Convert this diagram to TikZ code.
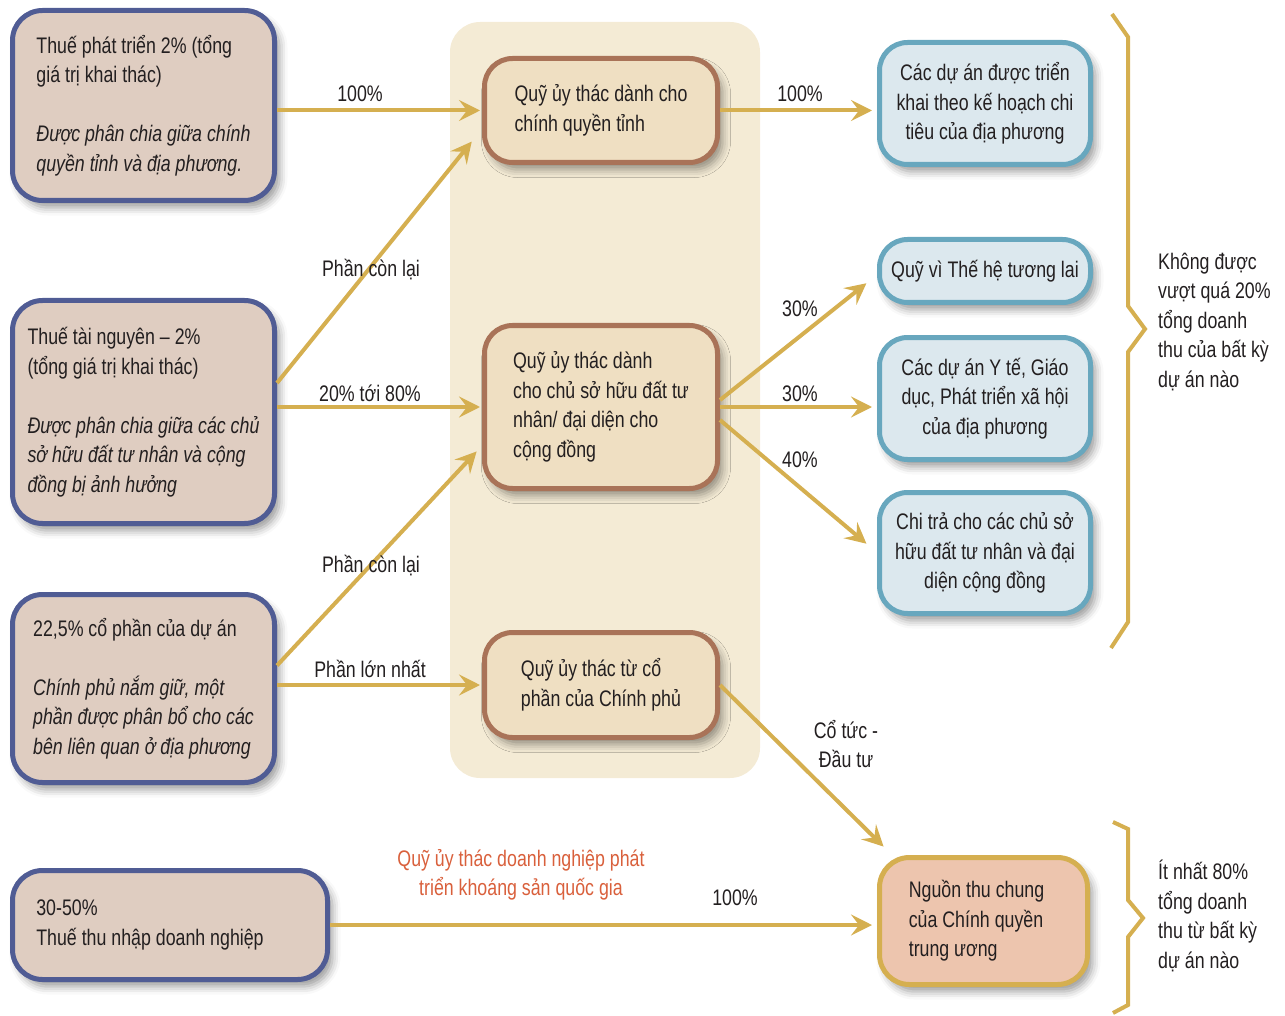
\documentclass[tikz,border=0pt]{standalone}
\usepackage{fontspec}
\setmainfont[FakeStretch=0.79]{Liberation Sans}
\usepackage{xcolor}
\usetikzlibrary{arrows.meta,calc,shadows.blur}
\definecolor{ink}{RGB}{35,31,32}
\definecolor{srcline}{RGB}{80,92,148}
\definecolor{srcfill}{RGB}{223,205,193}
\definecolor{panel}{RGB}{244,235,213}
\definecolor{midline}{RGB}{169,115,88}
\definecolor{midfill}{RGB}{239,223,194}
\definecolor{tealline}{RGB}{104,167,190}
\definecolor{tealfill}{RGB}{220,232,238}
\definecolor{gold}{RGB}{213,175,80}
\definecolor{salmon}{RGB}{237,197,174}
\definecolor{fundred}{RGB}{217,96,60}
\tikzset{
  txt/.style={font=\fontsize{22.5}{29.5}\selectfont,text=ink},
  box/.style={txt,rectangle,rounded corners=30pt,line width=5pt,inner sep=4pt,
    blur shadow={shadow xshift=5pt,shadow yshift=-7pt,shadow opacity=40,shadow blur radius=8pt}},
  srcbox/.style={box,draw=srcline,fill=srcfill,minimum width=262pt,align=left},
  midbox/.style={box,draw=midline,fill=midfill,minimum width=233pt,rounded corners=28pt,align=left},
  tealbox/.style={box,draw=tealline,fill=tealfill,minimum width=211pt,rounded corners=28pt,align=center},
  flow/.style={draw=gold,line width=4pt,->,shorten >=2pt},
  lbl/.style={txt,inner sep=0pt},
  brace/.style={draw=gold,line width=4pt,miter limit=20}
}
\begin{document}
\begin{tikzpicture}[x=1pt,y=-1pt,>={Stealth[length=21pt,width=21pt,inset=8pt]}]
  \useasboundingbox (0,0) rectangle (1285,1016);
  % central panel
  \fill[panel,rounded corners=30pt] (450,22) rectangle (760,778);
  % sources
  \node[srcbox,minimum height=190pt] (s1) at (143.5,105.5) {Thuế phát triển 2\% (tổng\\giá trị khai thác)\\[29.5pt]\textit{Được phân chia giữa chính}\\\textit{quyền tỉnh và địa phương.}};
  \node[srcbox,minimum height=223pt] (s2) at (143.5,412) {Thuế tài nguyên – 2\%\\(tổng giá trị khai thác)\\[29.5pt]\textit{Được phân chia giữa các chủ}\\\textit{sở hữu đất tư nhân và cộng}\\\textit{đồng bị ảnh hưởng}};
  \node[srcbox,minimum height=188pt] (s3) at (143.5,688.5) {22,5\% cổ phần của dự án\\[29.5pt]\textit{Chính phủ nắm giữ, một}\\\textit{phần được phân bổ cho các}\\\textit{bên liên quan ở địa phương}};
  \node[srcbox,minimum width=315pt,minimum height=109pt] (s4) at (170,925) {30-50\%\\Thuế thu nhập doanh nghiệp\hspace*{40pt}};
  % trust funds
  \node[midbox,minimum height=104pt] (m1) at (601,110.5) {Quỹ ủy thác dành cho\\chính quyền tỉnh};
  \node[midbox,minimum height=163pt] (m2) at (601,407) {Quỹ ủy thác dành\\cho chủ sở hữu đất tư\\nhân/ đại diện cho\\cộng đồng};
  \node[midbox,minimum height=105pt] (m3) at (601,685) {Quỹ ủy thác từ cổ\\phần của Chính phủ};
  % uses
  \node[tealbox,minimum height=122pt] (r1) at (985,103.5) {Các dự án được triển\\khai theo kế hoạch chi\\tiêu của địa phương};
  \node[tealbox,minimum height=63pt] (r2) at (985,271) {Quỹ vì Thế hệ tương lai};
  \node[tealbox,minimum height=122pt] (r3) at (985,398.5) {Các dự án Y tế, Giáo\\dục, Phát triển xã hội\\của địa phương};
  \node[tealbox,minimum height=121pt] (r4) at (985,553) {Chi trả cho các chủ sở\\hữu đất tư nhân và đại\\diện cộng đồng};
  \node[box,draw=gold,fill=salmon,minimum width=208pt,minimum height=127pt,align=left] (r5) at (983.5,921) {Nguồn thu chung\hspace*{14pt}\\của Chính quyền\\trung ương};
  % flows
  \draw[flow] (s1.east |- m1.west) -- (m1.west);
  \draw[flow] ([yshift=29pt]s2.east) -- ($(m1.south west)+(-9,-25)$);
  \draw[flow] (s2.east |- m2.west) -- (m2.west);
  \draw[flow] ([yshift=23pt]s3.east) -- ($(m2.south west)+(-4,-41)$);
  \draw[flow] (s3.east |- m3.west) -- (m3.west);
  \draw[flow,shorten >=5pt] (m1.east) -- (m1.east -| r1.west);
  \draw[flow] ([yshift=7pt]m2.east) -- ($(r2.south west)+(-9,-23)$);
  \draw[flow,shorten >=5pt] (m2.east) -- (m2.east -| r3.west);
  \draw[flow] ([yshift=-13pt]m2.east) -- ($(r4.west)+(-9,-8)$);
  \draw[flow] (m3.east) -- ($(r5.north west)+(8,-7)$);
  \draw[flow,shorten >=5pt] (s4.east) -- (s4.east -| r5.west);
  % flow labels
  \node[lbl] (l1) at (360,94) {100\%};
  \node[lbl] (l2) at (371,270) {Phần còn lại};
  \node[lbl] (l3) at (370,393) {20\% tới 80\%};
  \node[lbl] (l4) at (371,566) {Phần còn lại};
  \node[lbl] (l5) at (370,669) {Phần lớn nhất};
  \node[lbl] (l6) at (800,94) {100\%};
  \node[lbl] (l7) at (800,309) {30\%};
  \node[lbl] (l8) at (800,394) {30\%};
  \node[lbl] (l9) at (800,460) {40\%};
  \node[lbl,align=center] (l10) at (846,744) {Cổ tức -\\Đầu tư};
  \node[lbl] (l11) at (735,898) {100\%};
  \node[lbl,align=center,text=fundred] (l12) at (521,875) {Quỹ ủy thác doanh nghiệp phát\\triển khoáng sản quốc gia};
  % braces
  \draw[brace] (1112,14) -- (1128,37) -- (1128,306) -- (1145,329) -- (1128,352) -- (1128,622) -- (1111,648);
  \draw[brace] (1113,822) -- (1128,829) -- (1128,900) -- (1143,918) -- (1128,937) -- (1128,1005) -- (1113,1013);
  \node[lbl,align=left,anchor=west] (n1) at (1158,322) {Không được\\vượt quá 20\%\\tổng doanh\\thu của bất kỳ\\dự án nào};
  \node[lbl,align=left,anchor=west] (n2) at (1158,916) {Ít nhất 80\%\\tổng doanh\\thu từ bất kỳ\\dự án nào};
\end{tikzpicture}
\end{document}
